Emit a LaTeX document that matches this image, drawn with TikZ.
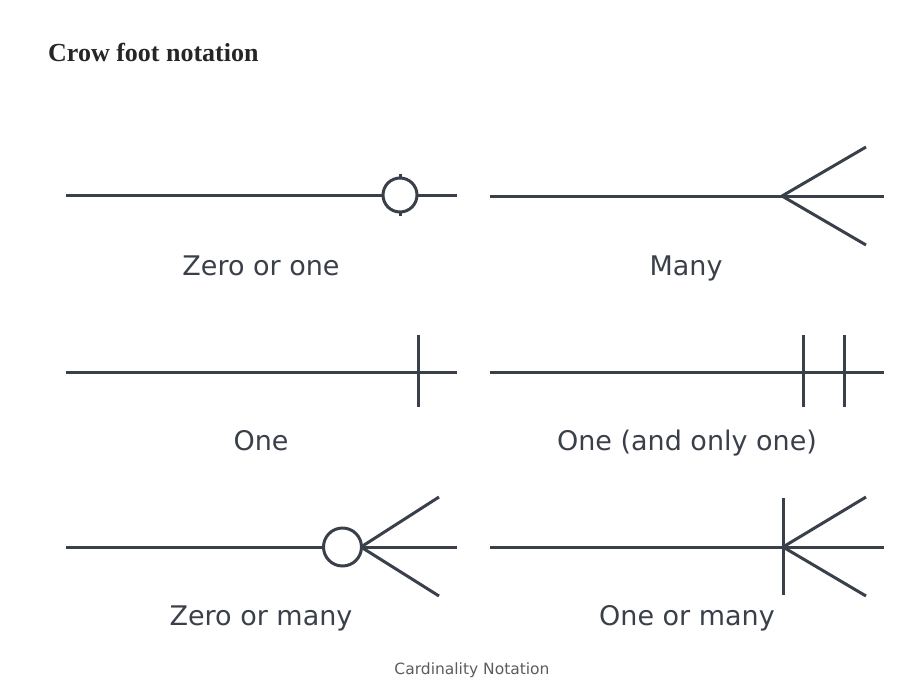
\documentclass[tikz,border=0pt]{standalone}
\usepackage{fontspec}
\usepackage{tikz}
\newfontfamily\labelfont{DejaVu Sans}
\newfontfamily\titlefont{Liberation Serif}
\definecolor{slate}{HTML}{3A4049}
\definecolor{capgray}{HTML}{5C5C5C}
\tikzset{
    link/.style={draw=slate, line width=3pt, line join=round},
    ring/.style={circle, draw=slate, fill=white, line width=3pt, inner sep=0pt},
    tag/.style={anchor=base, text=slate, font=\labelfont\fontsize{27}{30}\selectfont}
}

\begin{document}
\begin{tikzpicture}[x=1pt,y=-1pt]
    \useasboundingbox (0,0) rectangle (918,683);
    \node[anchor=base west, inner sep=0pt, text=black!85] (title) at (48,61)
        {\titlefont\bfseries\fontsize{26}{29}\selectfont Crow foot notation};

    % zero or one
    \coordinate (zoA) at (66,195);
    \coordinate (zoB) at (457,195);
    \draw[link] (zoA) -- (zoB);
    \coordinate (zoT) at (400,174);
    \coordinate (zoU) at (400,216);
    \draw[link] (zoT) -- (zoU);
    \node[ring, minimum size=34pt] (zoC) at (400,195) {};
    \node[tag] (zoL) at (261,275) {Zero or one};

    % many
    \coordinate (mnA) at (490,196);
    \coordinate (mnB) at (884,196);
    \coordinate (mnV) at (782,196);
    \coordinate (mnP) at (866,147);
    \coordinate (mnQ) at (866,245);
    \draw[link] (mnA) -- (mnB);
    \draw[link] (mnP) -- (mnV) -- (mnQ);
    \node[tag] (mnL) at (686,275) {Many};

    % one
    \coordinate (onA) at (66,372);
    \coordinate (onB) at (457,372);
    \coordinate (onT) at (418,335);
    \coordinate (onU) at (418,407);
    \draw[link] (onA) -- (onB);
    \draw[link] (onT) -- (onU);
    \node[tag] (onL) at (261,450) {One};

    % one and only one
    \coordinate (ooA) at (490,372);
    \coordinate (ooB) at (884,372);
    \coordinate (ooT) at (803,335);
    \coordinate (ooU) at (803,407);
    \coordinate (ooS) at (844,335);
    \coordinate (ooW) at (844,407);
    \draw[link] (ooA) -- (ooB);
    \draw[link] (ooT) -- (ooU);
    \draw[link] (ooS) -- (ooW);
    \node[tag] (ooL) at (687,450) {One (and only one)};

    % zero or many
    \coordinate (zmA) at (66,547);
    \coordinate (zmB) at (457,547);
    \coordinate (zmV) at (361,547);
    \coordinate (zmP) at (439,497);
    \coordinate (zmQ) at (439,596);
    \draw[link] (zmA) -- (zmB);
    \draw[link] (zmP) -- (zmV) -- (zmQ);
    \node[ring, minimum size=38pt] (zmC) at (342.5,547) {};
    \node[tag] (zmL) at (261,625) {Zero or many};

    % one or many
    \coordinate (omA) at (490,547);
    \coordinate (omB) at (884,547);
    \coordinate (omV) at (783,547);
    \coordinate (omP) at (866,497);
    \coordinate (omQ) at (866,596);
    \coordinate (omT) at (783,498);
    \coordinate (omU) at (783,595);
    \draw[link] (omA) -- (omB);
    \draw[link] (omT) -- (omU);
    \draw[link] (omP) -- (omV) -- (omQ);
    \node[tag] (omL) at (687,625) {One or many};

    \node[anchor=base, text=capgray, font=\labelfont\fontsize{15.5}{18}\selectfont] (cap) at (472,674) {Cardinality Notation};
\end{tikzpicture}
\end{document}
